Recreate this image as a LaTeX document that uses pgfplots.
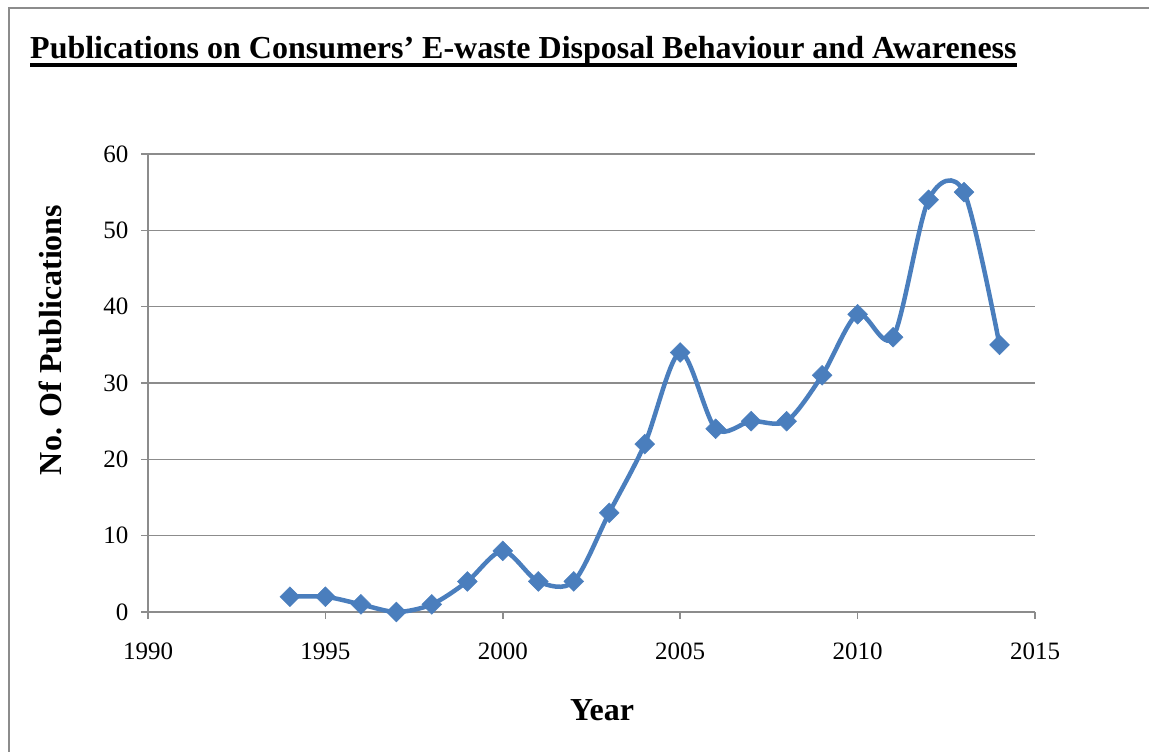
\documentclass[border=0pt]{standalone}
\usepackage{fontspec}
\setmainfont{Liberation Serif}
\usepackage{pgfplots}
\pgfplotsset{compat=1.18}
\definecolor{ln}{RGB}{74,126,189}
\definecolor{ax}{RGB}{140,140,140}
\begin{document}
\begin{tikzpicture}
\useasboundingbox (0pt,0pt) rectangle (1149pt,752pt);
\draw[ax, line width=2pt] (9pt,-20pt) -- (9pt,744pt) -- (1170pt,744pt);
\node[anchor=base west, inner sep=0, font=\fontsize{32}{36}\selectfont\bfseries] (t) at (30pt,693pt) {Publications on Consumers’ E-waste Disposal Behaviour and Awareness};
\draw[line width=4pt] ([yshift=-6pt]t.base west) -- ([yshift=-6pt]t.base east);
\begin{axis}[
  anchor=south west, at={(148pt,140pt)},
  scale only axis, width=887pt, height=458pt,
  xmin=1990, xmax=2015, ymin=0, ymax=60,
  xtick={1990,1995,...,2015}, ytick={0,10,...,60},
  axis x line*=bottom, axis y line*=left,
  axis line style={ax, line width=1.5pt},
  ymajorgrids, grid style={ax, line width=1.5pt},
  tick style={ax, line width=1.5pt}, tick align=outside, major tick length=7pt,
  /pgf/number format/assume math mode=true,
  /pgf/number format/1000 sep={},
  ticklabel style={font=\fontsize{25}{30}\selectfont},
  xticklabel style={yshift=-20pt},
  yticklabel style={xshift=-9pt},
  xlabel={Year}, ylabel={No. Of Publications},
  label style={font=\fontsize{32}{36}\selectfont\bfseries},
  xlabel style={at={(axis description cs:0.512,-0.214)}, anchor=center},
  ylabel style={at={(axis description cs:-0.11,0.594)}, anchor=center},
  clip=false,
]
\addplot[ln, line width=4.5pt, smooth, tension=0.5, mark=square*, mark size=7pt, mark options={fill=ln, draw=ln, line width=0.5pt, rotate=45}] coordinates {
(1994,2) (1995,2) (1996,1) (1997,0) (1998,1) (1999,4) (2000,8) (2001,4) (2002,4) (2003,13) (2004,22) (2005,34) (2006,24) (2007,25) (2008,25) (2009,31) (2010,39) (2011,36) (2012,54) (2013,55) (2014,35)
};
\end{axis}
\end{tikzpicture}
\end{document}
